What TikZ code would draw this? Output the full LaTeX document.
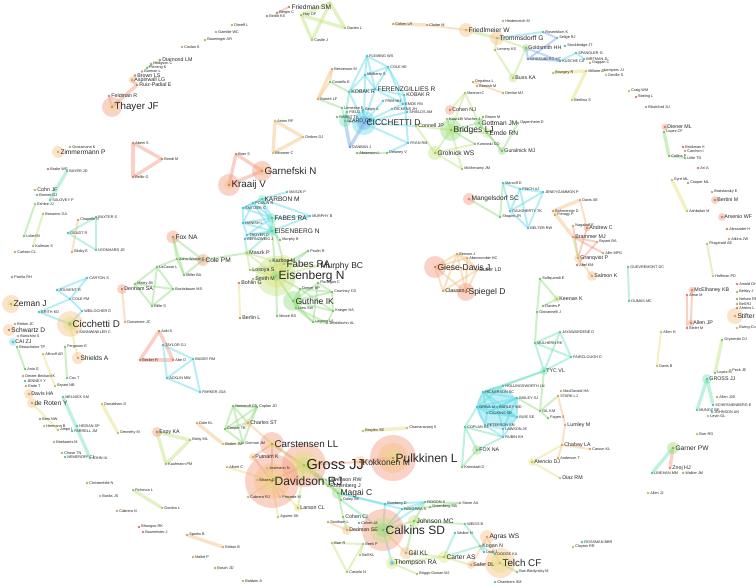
\documentclass[tikz,border=0pt]{standalone}
\usepackage{fontspec}
\setmainfont{Liberation Sans}
\usetikzlibrary{backgrounds}
\definecolor{cS}{HTML}{F2977A}
\definecolor{cO}{HTML}{F6BE7E}
\definecolor{cY}{HTML}{E4E07A}
\definecolor{cL}{HTML}{C2E27C}
\definecolor{cG}{HTML}{90DC80}
\definecolor{cM}{HTML}{70E2B4}
\definecolor{cC}{HTML}{60DAEA}
\definecolor{cB}{HTML}{78A6EE}
\tikzstyle{au}=[shape=circle,
                inner sep=0pt,
                minimum size=2.8pt]
\tikzstyle{nS}=[au, fill=cS!85!black]
\tikzstyle{nO}=[au, fill=cO!85!black]
\tikzstyle{nY}=[au, fill=cY!85!black]
\tikzstyle{nL}=[au, fill=cL!85!black]
\tikzstyle{nG}=[au, fill=cG!85!black]
\tikzstyle{nM}=[au, fill=cM!85!black]
\tikzstyle{nC}=[au, fill=cC!85!black]
\tikzstyle{nB}=[au, fill=cB!85!black]
\tikzstyle{ring}=[fill opacity=0.42]
\tikzset{
  f0/.style={font=\fontsize{3.8}{4}\selectfont, inner sep=0.5pt, text=black!85},
  f1/.style={font=\fontsize{5.3}{6}\selectfont, inner sep=0.6pt, text=black!85},
  f2/.style={font=\fontsize{6.6}{7}\selectfont, inner sep=0.7pt, text=black!85},
  f3/.style={font=\fontsize{8.5}{9}\selectfont, inner sep=0.8pt, text=black!85},
  f4/.style={font=\fontsize{9.8}{10}\selectfont, inner sep=0.8pt, text=black!85},
  f5/.style={font=\fontsize{12}{13}\selectfont, inner sep=0.8pt, text=black!85},
  f6/.style={font=\fontsize{14.5}{15}\selectfont, inner sep=0.8pt, text=black!85},
  lkt/.style={every edge/.style={draw=#1, line width=1pt, draw opacity=0.5, line cap=round}},
  lk/.style={every edge/.style={draw=#1, line width=2pt, draw opacity=0.45, line cap=round}},
  lkw/.style={every edge/.style={draw=#1, line width=3.4pt, draw opacity=0.45, line cap=round}}
}
\begin{document}
\begin{tikzpicture}[x=1pt,y=-1pt]
\useasboundingbox (0,0) rectangle (756,585);

% top left strand
\node[nO,label={[f0]right:Coslan K}] (coslan) at (182,47) {};
\node[nO,label={[f0]right:Dimeff L}] (dimeff) at (232,25) {};
\node[nO,label={[f0]right:Gamble WC}] (gamble) at (216,32) {};
\node[nO,label={[f0]right:Bauminger AR}] (baumin) at (205,40) {};
\node[nS,label={[f1]right:Diamond LM}] (diamond) at (160,60) {};
\node[nG,label={[f0]right:Hodgson C}] (hodgson) at (151,64) {};
\node[nG,label={[f0]right:Fleming K}] (fleming) at (147,68) {};
\node[nO,label={[f0]right:Burman L}] (burman) at (142,71.5) {};
\node[nS,label={[f1]right:Brown LS}] (brownls) at (135,75.5) {};
\node[nO,label={[f1]right:Aspinwall LG}] (aspin) at (132,80) {};
\node[nS,label={[f1]right:Ruiz-Padial E}] (ruiz) at (137,85) {};
\node[nS,label={[f1]right:Feldman R}] (feldman) at (109,96) {};
\node[nS,label={[f4]right:Thayer JF}] (thayer) at (112,107) {};

% far left
\node[nO,label={[f2]right:Zimmermann P}] (zimm) at (58,152) {};
\node[nO,label={[f0]right:Grossmann K}] (grossmann) at (70,147) {};
\node[nS,label={[f0]right:Abeni S}] (abeni) at (133,143) {};
\node[nS,label={[f0]right:Bondi M}] (bondi) at (162,159) {};
\node[nS,label={[f0]right:Bellio G}] (bellio) at (133,177) {};
\node[nS,label={[f0]right:Brake WG}] (brake) at (48,169) {};
\node[nM,label={[f0]right:BAYER JD}] (bayer) at (67,171) {};
\node[nO,label={[f1]right:Cohn JF}] (cohnjf) at (35,190) {};
\node[nG,label={[f0]right:Bonnet GJ}] (bonnet) at (37,195) {};
\node[nM,label={[f0]right:SALOVEY P}] (salovey) at (50,200) {};
\node[nL,label={[f0]right:Eshlee JJ}] (eshlee) at (35,204) {};
\node[nG,label={[f0]right:Lobel M}] (lobel) at (24,236) {};
\node[nL,label={[f0]right:Bonanno GA}] (bonanno) at (43,214) {};
\node[nL,label={[f0]right:Kaltman S}] (kaltman) at (33,246) {};
\node[nO,label={[f0]right:Carlson CL}] (carlsoncl) at (15,252) {};
\node[nM,label={[f0]right:BAXTER S}] (baxter) at (96,217) {};
\node[nO,label={[f0]right:Chapelle S}] (chapelle) at (78,220) {};
\node[nM,label={[f0]right:GEUDT R}] (geudt) at (68,233) {};
\node[nO,label={[f0]right:Blixby E}] (blixby) at (72,252) {};
\node[nM,label={[f0]right:LEONHARD JE}] (leonh) at (96,250) {};
\node[nG,label={[f0]right:Parrila RH}] (parrila) at (12,277) {};
\node[nC,label={[f0]right:CARTON S}] (carton) at (87,278) {};
\node[nC,label={[f0]right:JOUVENT R}] (jouvent) at (57,290) {};
\node[nC,label={[f0]right:COLE PM}] (colepmU) at (70,299) {};
\node[nC,label={[f0]right:BRITH KD}] (brith) at (39,312) {};
\node[nC,label={[f0]right:WEILOCHER D}] (weil) at (82,311) {};
\node[nO,label={[f3]right:Zeman J}] (zeman) at (11,304) {};
\node[nO,label={[f4]right:Cicchetti D}] (cicchetti) at (70,324) {};
\node[nY,label={[f0]right:SANNWINKLER C}] (sannw) at (77,332) {};
\node[nO,label={[f0]right:Dunsmore JC}] (dunsmore) at (125,322) {};
\node[nO,label={[f0]right:Britton JC}] (britton) at (15,324) {};
\node[nS,label={[f2]right:Schwartz D}] (schwartz) at (9,330) {};
\node[nO,label={[f0]right:Banichini S}] (banich) at (18,336) {};
\node[nC,label={[f1]right:CAI ZJ}] (caizj) at (13,342) {};
\node[nG,label={[f0]right:Beauchaine TP}] (beauch) at (17,347) {};
\node[nG,label={[f0]right:Ania G}] (ania) at (25,369) {};
\node[nO,label={[f0]right:Dexter-Beckard K}] (dexter) at (23,376) {};
\node[nC,label={[f0]right:JENNEY Y}] (jenney) at (25,381) {};
\node[nO,label={[f0]right:Ende T}] (endet) at (26,386) {};
\node[nG,label={[f0]right:Ferguson E}] (ferguson) at (65,347) {};
\node[nG,label={[f0]right:Cox T}] (coxt) at (67,378) {};
\node[nY,label={[f0]right:Altinoff AD}] (altinoff) at (43,354) {};
\node[nY,label={[f0]right:Bryant NB}] (bryantnb) at (55,386) {};
\node[nO,label={[f2]right:Shields A}] (shields) at (78,358) {};

% left green cluster
\node[nG,label={[f0]right:LaCasse L}] (lacasse) at (157,267) {};
\node[nG,label={[f0]right:Maley JB}] (maley) at (135,284) {};
\node[nS,label={[f1]right:Denham SA}] (denham) at (122,289) {};
\node[nG,label={[f0]right:Buchsbaum MS}] (buchs) at (173,289) {};
\node[nG,label={[f0]right:Billie S}] (billie) at (152,306) {};
\node[nS,label={[f2]right:Fox NA}] (fox) at (173,237) {};
\node[nG,label={[f0]right:Zahn-Waxler C}] (zahn) at (177,259) {};
\node[nG,label={[f0]right:Miller BA}] (millerba) at (184,275) {};
\node[nS,label={[f2]right:Cole PM}] (colepm) at (203,260) {};
\node[nS,label={[f0]right:Aoki S}] (aoki) at (159,331) {};
\node[nS,label={[f0]right:Becker R}] (beckerr) at (140,360) {};
\node[nS,label={[f0]right:Abe O}] (abeo) at (173,360) {};
\node[nC,label={[f0]right:TAYLOR GJ}] (taylor) at (163,345) {};
\node[nC,label={[f0]right:ACKLIN MW}] (acklin) at (167,378) {};
\node[nC,label={[f0]right:BAGBY RM}] (bagby) at (193,359) {};
\node[nC,label={[f0]right:PARKER JDA}] (parker) at (200,392) {};

% top centre
\node[nS,label={[f0]right:Birditt KS}] (birditt) at (267,16) {};
\node[nS,label={[f0]right:Bergin C}] (bergin) at (277,13) {};
\node[nS,label={[f2]right:Friedman SM}] (friedman) at (289,7) {};
\node[nL,label={[f0]right:Hay DF}] (hay) at (301,15) {};
\coordinate (topr) at (330,3);
\node[nL,label={[f0]right:Davies L}] (davies) at (345,28) {};
\node[nL,label={[f0]right:Castle J}] (castle) at (312,40) {};
\node[nY,label={[f0]right:Anton RF}] (anton) at (275,121) {};
\node[nY,label={[f0]right:Drobes DJ}] (drobes) at (303,137) {};
\node[nY,label={[f0]right:Bloomer C}] (bloomer) at (273,153) {};
\node[nS,label={[f0]right:Boer S}] (boer) at (236,154) {};
\node[nS,label={[f4]right:Garnefski N}] (garnefski) at (262,171) {};
\node[nS,label={[f4]right:Kraaij V}] (kraaij) at (229,185) {};

% upper CICCHETTI cluster
\node[nO,label={[f0]right:Benvenuto M}] (benvenuto) at (332,69) {};
\node[nG,label={[f0]right:Costello E}] (costello) at (330,82) {};
\node[nO,label={[f0]right:Barrett LF}] (barrett) at (318,99) {};
\node[nC,label={[f0]right:FLEMING WS}] (flemingws) at (367,56) {};
\node[nC,label={[f0]right:COLE HE}] (colehe) at (388,67) {};
\node[nC,label={[f0]right:Mulberry S}] (mulberry) at (365,75) {};
\node[nM,label={[f1]right:KOBAK R}] (kobakA) at (349,92) {};
\node[nC,label={[f2]right:FERENZGILLIES R}] (ferenz) at (375,89) {};
\node[nM,label={[f1]right:KOBAK R}] (kobakB) at (404,95) {};
\node[nC,label={[f0]right:FRIM HH}] (frim) at (383,101) {};
\node[nC,label={[f0]right:EMDE RN}] (emdeU) at (403,104) {};
\node[nC,label={[f0]right:DICKENS JH}] (dickens) at (392,109) {};
\node[nC,label={[f0]right:SHIELDS AM}] (shieldsam) at (407,112) {};
\node[nG,label={[f0]right:Lemerise E}] (lemerise) at (342,108) {};
\node[nG,label={[f0]right:FIELD T}] (field) at (347,112) {};
\node[nC,label={[f0]right:Begin A}] (beginA) at (363,110) {};
\node[nG,label={[f0]right:RABBITT K}] (rabbitt) at (337,117) {};
\node[nM,label={[f1]right:IZARD CE}] (izard) at (345,121) {};
\node[nB,label={[f3]right:CICCHETTI D}] (cicchU) at (364,123) {};
\node[nC,label={[f0]right:RYAN RM}] (ryan) at (408,143) {};
\node[nB,label={[f0]right:DANBAN J}] (danban) at (350,147) {};
\node[nG,label={[f0]right:Abramson L}] (abramson) at (357,153) {};
\node[nG,label={[f0]right:Delaney V}] (delaney) at (387,153) {};

% Friedlmeier / Goldsmith
\node[nO,label={[f0]right:Cohen LR}] (cohenlr) at (393,24) {};
\node[nO,label={[f0]right:Cloitre M}] (cloitre) at (427,25) {};
\node[nL,label={[f0]right:Heidenreich M}] (heiden) at (503,21) {};
\node[nO,label={[f2]right:Friedlmeier W}] (friedl) at (466,30) {};
\node[nO,label={[f2]right:Trommsdorff G}] (tromm) at (497,38) {};
\node[nC,label={[f0]right:Rosenblum K}] (rosenk) at (543,32) {};
\node[nC,label={[f0]right:Selige RJ}] (selige) at (557,38) {};
\node[nL,label={[f0]right:Lemery KS}] (lemery) at (495,50) {};
\node[nG,label={[f1]right:Goldsmith HH}] (goldsmith) at (526,48) {};
\node[nB,label={[f0]right:GREENBERG MT}] (greenberg) at (528,59) {};
\node[nB,label={[f0]right:KUSCHE CA}] (kusche) at (560,61) {};
\node[nL,label={[f1]right:Buss KA}] (buss) at (513,78) {};
\node[nY,label={[f0]right:Bourgey R}] (bourgey) at (553,73) {};
\node[nC,label={[f0]right:Stockbridge JT}] (stockb) at (565,46) {};
\node[nC,label={[f0]right:SPANGLER G}] (spangler) at (576,53) {};
\node[nC,label={[f0]right:BIRTMAN JL}] (birtman) at (584,59) {};
\node[nO,label={[f0]right:Duggan C}] (duggan) at (590,63) {};
\node[nY,label={[f0]right:Millaire JP}] (millaire) at (586,71) {};
\node[nY,label={[f0]right:Lempers JJ}] (lempers) at (602,71) {};
\node[nY,label={[f0]right:Deville S}] (deville) at (606,75) {};
\node[nY,label={[f0]right:Berthoz S}] (berthoz) at (572,100) {};

% Bridges cluster
\node[nS,label={[f1]right:Cohen NJ}] (cohennj) at (450,110) {};
\node[nL,label={[f0]right:Matevei C}] (matevei) at (465,93) {};
\node[nO,label={[f0]right:Depalma L}] (depalma) at (473,82) {};
\node[nO,label={[f0]right:Barnish M}] (barnish) at (477,86) {};
\node[nO,label={[f0]right:Devine MJ}] (devine) at (503,93) {};
\node[nL,label={[f0]right:Katz LF}] (katz) at (447,119) {};
\node[nL,label={[f0]right:Wucher J}] (wucher) at (462,119) {};
\node[nG,label={[f0]right:Brown M}] (brownm) at (483,117) {};
\node[nG,label={[f2]right:Gottman JM}] (gottman) at (479,123) {};
\node[nG,label={[f0]right:Oppenheim D}] (oppen) at (518,123) {};
\node[nG,label={[f2]right:Emde RN}] (emde) at (487,133) {};
\node[nG,label={[f3]right:Bridges LJ}] (bridges) at (451,130) {};
\node[nL,label={[f1]right:Connell JP}] (connell) at (416,126) {};
\node[nL,label={[f2]right:Grolnick WS}] (grolnick) at (435,153) {};
\node[nG,label={[f0]right:Kurowski CO}] (kurowski) at (475,144) {};
\node[nG,label={[f1]right:Guralnick MJ}] (guralnick) at (502,151) {};
\node[nL,label={[f0]right:McMenamy JM}] (mcmenamy) at (462,169) {};

% Mangelsdorf and right orange group
\node[nS,label={[f2]right:Mangelsdorf SC}] (mangels) at (469,199) {};
\node[nG,label={[f0]right:Shapiro JR}] (shapiro) at (500,217) {};
\node[nC,label={[f0]right:DAUGHERTY TK}] (daugh) at (510,211) {};
\node[nC,label={[f0]right:BELTER RW}] (belter) at (528,228) {};
\node[nC,label={[f0]right:Marcoff D}] (marcoff) at (503,183) {};
\node[nC,label={[f0]right:FINCH AJ}] (finch) at (520,189) {};
\node[nC,label={[f0]right:JENEYGAMMON P}] (jeney) at (543,192) {};
\node[nO,label={[f0]right:Buhrmester D}] (buhr) at (553,211) {};
\node[nO,label={[f0]right:Fonagy P}] (fonagy) at (555,215) {};
\node[nO,label={[f0]right:Davis AE}] (davisae) at (580,200) {};
\node[nO,label={[f0]right:Nagakoff E}] (nagakoff) at (573,226) {};
\node[nS,label={[f1]right:Andrew C}] (andrew) at (587,228) {};
\node[nO,label={[f1]right:Brammer MJ}] (brammer) at (573,237) {};
\node[nO,label={[f0]right:Bryant RA}] (bryantrm) at (597,242) {};
\node[nO,label={[f0]right:Allin MPG}] (allin) at (603,253) {};
\node[nO,label={[f1]right:Granqvist P}] (granqvist) at (578,258) {};
\node[nS,label={[f0]right:Abel KM}] (abel) at (577,265) {};
\node[nO,label={[f1]right:Salmon K}] (salmonk) at (592,276) {};

% Giese-Davis group
\node[nS,label={[f3]right:Giese-Davis J}] (giese) at (435,267) {};
\node[nO,label={[f0]right:Benson J}] (benson) at (457,254) {};
\node[nO,label={[f0]right:Abercrombie HC}] (aberc) at (467,258) {};
\node[nO,label={[f1]right:Butler LD}] (butler) at (477,270) {};
\node[nO,label={[f1]right:Classen C}] (classen) at (443,291) {};
\node[nS,label={[f3]right:Spiegel D}] (spiegel) at (466,292) {};

% middle right
\node[nG,label={[f0]right:Solliquandi E}] (solli) at (540,279) {};
\node[nL,label={[f1]right:Keenan K}] (keenan) at (557,299) {};
\node[nG,label={[f0]right:Davies P}] (daviesp) at (543,306) {};
\node[nG,label={[f0]right:Giovannelli J}] (giovann) at (537,312) {};
\node[nM,label={[f0]right:MULHERN RK}] (mulhern) at (535,343) {};
\node[nM,label={[f0]right:JAYAWARDENE D}] (jayaw) at (560,332) {};
\node[nM,label={[f0]right:FAIRCLOUGH D}] (fairc) at (571,357) {};
\node[nM,label={[f1]right:TYC VL}] (tyc) at (544,371) {};
\node[nC,label={[f0]right:HOLLINGSWORTH LN}] (hollings) at (503,386) {};

% right column
\node[nY,label={[f0]right:Craig WM}] (craig) at (629,91) {};
\node[nS,label={[f0]right:Boeing L}] (boeing) at (636,97) {};
\node[nG,label={[f0]right:Blackford JU}] (blackford) at (646,107) {};
\node[nS,label={[f1]right:Diener ML}] (diener) at (665,127) {};
\node[nG,label={[f0]right:Lopez CF}] (lopezcf) at (664,132) {};
\node[nS,label={[f0]right:Brinkman K}] (brinkman) at (683,147) {};
\node[nO,label={[f0]right:Carchon I}] (carchon) at (685,151) {};
\node[nG,label={[f0]right:Collins P}] (collins) at (669,156) {};
\node[nG,label={[f0]right:Little TD}] (little) at (685,158) {};
\node[nS,label={[f0]right:Ari A}] (ari) at (698,168) {};
\node[nY,label={[f0]right:Eyre ML}] (eyre) at (672,180) {};
\node[nG,label={[f0]right:Cooper ML}] (cooperml) at (688,183) {};
\node[nO,label={[f0]right:Bratslavsky E}] (bratsl) at (712,192) {};
\node[nS,label={[f1]right:Bertini M}] (bertini) at (715,200) {};
\node[nY,label={[f0]right:Ashbaker M}] (ashbaker) at (687,211) {};
\node[nS,label={[f1]right:Arsenio WF}] (arsenio) at (722,217) {};
\node[nS,label={[f0]right:Alexander H}] (alexander) at (727,229) {};
\node[nO,label={[f0]right:Atkins JW}] (atkins) at (729,239) {};
\node[nL,label={[f0]right:Fitzgerald AE}] (fitz) at (707,244) {};
\node[nY,label={[f0]right:Hoffman PD}] (hoffman) at (713,276) {};
\node[nM,label={[f0]right:GUEVREMONT DC}] (guev) at (628,267) {};
\node[nM,label={[f0]right:DUMAS MC}] (dumas) at (629,301) {};
\node[nS,label={[f1]right:McElhaney KB}] (mcelh) at (692,290) {};
\node[nS,label={[f0]right:Amar M}] (amar) at (687,295) {};
\node[nS,label={[f1]right:Allen JP}] (allenjp) at (691,323) {};
\node[nS,label={[f0]right:Bieler M}] (bieler) at (687,328) {};
\node[nS,label={[f0]right:Arnold DH}] (arnold) at (737,284) {};
\node[nO,label={[f0]right:Belsky J}] (belsky) at (737,292) {};
\node[nG,label={[f0]right:Nelson RE}] (nelson) at (737,299) {};
\node[nO,label={[f0]right:Bell RJ}] (bellrj) at (737,304) {};
\node[nS,label={[f0]right:Ahrens L}] (ahrens) at (737,308) {};
\node[nO,label={[f2]right:Stifter CA}] (stifter) at (735,316) {};
\node[nY,label={[f0]right:Ewing-Cobbs L}] (ewing) at (737,328) {};
\node[nY,label={[f0]right:Allen H}] (allenh) at (661,332) {};
\node[nY,label={[f0]right:Davis B}] (davisb) at (657,366) {};
\node[nG,label={[f0]right:Gryzenski DJ}] (gryz) at (722,340) {};
\node[nG,label={[f0]right:Lopez M}] (lopezm) at (715,373) {};
\node[nY,label={[f0]right:Peck JE}] (peck) at (730,370) {};
\node[nM,label={[f1]right:GROSS JJ}] (grossU) at (707,379) {};
\node[nO,label={[f0]right:Allen JJB}] (allenjjb) at (717,397) {};
\node[nC,label={[f0]right:SCHIFANENBERG E}] (schif) at (713,405) {};
\node[nM,label={[f0]right:MUNOZ RF}] (munoz) at (697,410) {};
\node[nC,label={[f0]right:JOHNSON AN}] (johnsonan) at (712,412) {};
\node[nY,label={[f0]right:Levin GL}] (levin) at (708,416) {};
\node[nY,label={[f0]right:Barr RG}] (barrrg) at (697,434) {};
\node[nG,label={[f2]right:Garner PW}] (garner) at (673,448) {};
\node[nS,label={[f1]right:Znoj HJ}] (znoj) at (670,468) {};
\node[nM,label={[f0]right:LINEHAN MM}] (linehan) at (652,473) {};
\node[nO,label={[f0]right:Walker JM}] (walkerjm) at (683,473) {};
\node[nY,label={[f0]right:Allen JJ}] (allenjj) at (648,493) {};
\node[nC,label={[f0]right:ROSSMAN BBR}] (rossman) at (582,542) {};
\node[nY,label={[f0]right:Clayton RR}] (clayton) at (573,547) {};

% lower right
\node[nO,label={[f0]right:MacDonald HA}] (macdonald) at (561,391) {};
\node[nO,label={[f0]right:STARK LJ}] (stark) at (558,396) {};
\node[nO,label={[f1]right:Lumley M}] (lumley) at (565,425) {};
\node[nO,label={[f1]right:Chabay LA}] (chabay) at (562,445) {};
\node[nO,label={[f0]right:Carson KL}] (carsonkl) at (590,449) {};
\node[nO,label={[f0]right:Anderson T}] (anderson) at (558,458) {};
\node[nY,label={[f1]right:Atencio DJ}] (atencio) at (532,462) {};
\node[nY,label={[f1]right:Diaz RM}] (diaz) at (560,478) {};
\node[nC,label={[f0]right:HICKERSON SC}] (hickerson) at (483,392) {};
\node[nC,label={[f0]right:BAILEY SJ}] (baileysj) at (517,398) {};
\node[nC,label={[f0]right:GRIVA M}] (griva) at (477,407) {};
\node[nC,label={[f0]right:BARLEY WD}] (barley) at (497,407) {};
\node[nC,label={[f0]right:CALKINS SD}] (calkinsU) at (487,413) {};
\node[nC,label={[f0]right:BUIE SE}] (buie) at (517,417) {};
\node[nG,label={[f0]right:GIL KM}] (gilkm) at (540,411) {};
\node[nG,label={[f0]right:Fagen J}] (fagen) at (548,418) {};
\node[nC,label={[f0]right:COPLAN RJ}] (coplan) at (465,427) {};
\node[nC,label={[f0]right:PETERSON EN}] (peterson) at (485,425) {};
\node[nC,label={[f0]right:LAWSON JE}] (lawson) at (503,429) {};
\node[nC,label={[f0]right:RUBIN KH}] (rubin) at (503,437) {};
\node[nG,label={[f1]right:FOX NA}] (foxU) at (477,450) {};
\node[nG,label={[f0]right:Kronstadt D}] (kronstadt) at (462,467) {};

% bottom centre
\node[nS,label={[f3]right:Kokkonen M}] (kokkonen) at (360,462) {};
\node[nS,label={[f5]right:Pulkkinen L}] (pulkk) at (393,458) {};
\node[nY,label={[f0]right:Broyles SE}] (broyles) at (363,431) {};
\node[nY,label={[f0]right:Chamaravanij S}] (chamar) at (407,428) {};
\node[nG,label={[f0]right:Nemeroff CB}] (nemeroff) at (233,406) {};
\node[nG,label={[f0]right:Coplan JD}] (coplanjd) at (257,407) {};
\node[nG,label={[f0]right:Cooper TB}] (cooperTB) at (225,429) {};
\node[nO,label={[f1]right:Charles ST}] (charles) at (248,423) {};
\node[nG,label={[f0]right:Gorman JM}] (gorman) at (243,443) {};
\node[nO,label={[f0]right:Dale KL}] (dalekl) at (197,423) {};
\node[nL,label={[f0]right:Bixby ML}] (bixby) at (190,440) {};
\node[nY,label={[f0]right:Boden JM}] (boden) at (223,444) {};
\node[nS,label={[f4]right:Carstensen LL}] (carstensen) at (272,444) {};
\node[nO,label={[f1]right:Putnam K}] (putnam) at (253,457) {};
\node[nY,label={[f0]right:Albert C}] (albertc) at (227,467) {};
\node[nY,label={[f0]right:Jostmann N}] (jostmann) at (267,468) {};
\node[nL,label={[f6]right:Gross JJ}] (gross) at (304,465) {};
\node[nS,label={[f5]right:Davidson RJ}] (davidson) at (272,481) {};
\node[nY,label={[f0]right:Blasen G}] (blasen) at (257,480) {};
\node[nL,label={[f1]right:Levenson RW}] (levenson) at (326,480) {};
\node[nL,label={[f1]right:Rottenberg J}] (rottenberg) at (328,486) {};
\node[nG,label={[f3]right:Magai C}] (magai) at (338,493) {};
\node[nG,label={[f0]right:Daley SE}] (daley) at (341,500) {};
\node[nY,label={[f0]right:Cabrera RJ}] (cabrerarj) at (248,497) {};
\node[nY,label={[f0]right:Procede M}] (procede) at (280,497) {};
\node[nY,label={[f1]right:Larson CL}] (larson) at (298,508) {};
\node[nY,label={[f0]right:Aguirre SK}] (aguirre) at (278,517) {};
\node[nG,label={[f1]right:Cohen CI}] (cohenci) at (343,517) {};
\node[nO,label={[f0]right:Southam L}] (southam) at (328,522) {};
\node[nC,label={[f0]right:Cohen JA}] (cohenja) at (359,523) {};
\node[nO,label={[f1]right:Dedmon SE}] (dedmon) at (347,530) {};
\node[nL,label={[f0]right:Barr R}] (barr) at (332,543) {};
\node[nL,label={[f0]right:Beek P}] (beek) at (363,544) {};
\node[nL,label={[f0]right:Bell KL}] (bellkl) at (360,555) {};
\node[nL,label={[f0]right:Casiola N}] (casiola) at (347,572) {};
\node[nC,label={[f0]right:Bomberg D}] (bomberg) at (385,504) {};
\node[nC,label={[f0]right:IWAGAWA S}] (iwagawa) at (402,509) {};
\node[nG,label={[f0]right:ROGON S}] (rogon) at (425,502) {};
\node[nG,label={[f0]right:Greenberg MA}] (greenbergma) at (430,507) {};
\node[nG,label={[f0]right:Stone AA}] (stone) at (460,503) {};
\node[nG,label={[f2]right:Johnson MC}] (johnsonmc) at (414,521) {};
\node[nG,label={[f5]right:Calkins SD}] (calkins) at (383,530) {};
\node[nM,label={[f0]right:WEISS B}] (weiss) at (465,524) {};
\node[nM,label={[f0]right:Walker N}] (walkern) at (455,533) {};
\node[nO,label={[f2]right:Agras WS}] (agras) at (487,537) {};
\node[nM,label={[f1]right:Kogan N}] (kogan) at (480,546) {};
\node[nC,label={[f0]right:Lock J}] (lockj) at (484,552) {};
\node[nC,label={[f0]right:DODGE KA}] (dodge) at (495,554) {};
\node[nO,label={[f2]right:Gill KL}] (gill) at (406,553) {};
\node[nL,label={[f2]right:Carter AS}] (carter) at (444,557) {};
\node[nO,label={[f1]right:Safer DL}] (safer) at (471,565) {};
\node[nY,label={[f4]right:Telch CF}] (telch) at (500,563) {};
\node[nC,label={[f2]right:Thompson RA}] (thompson) at (392,563) {};
\node[nL,label={[f0]right:Briggs-Gowan MJ}] (briggs) at (417,574) {};
\node[nG,label={[f0]right:Bas-Bledynsky M}] (bas) at (517,572) {};
\node[nM,label={[f0]right:Chambers SM}] (chambers) at (495,582) {};

% bottom left
\node[nO,label={[f1]right:Davis HA}] (davisha) at (29,394) {};
\node[nO,label={[f2]right:de Roten Y}] (deroten) at (32,403) {};
\node[nM,label={[f0]right:MELNICK SM}] (melnick) at (63,397) {};
\node[nY,label={[f0]right:Donaldson D}] (donaldson) at (102,404) {};
\node[nY,label={[f0]right:Dennehy M}] (dennehy) at (118,433) {};
\node[nG,label={[f0]right:Bers NW}] (bers) at (40,419) {};
\node[nY,label={[f0]right:Hermann B}] (hermann) at (44,426) {};
\node[nY,label={[f0]right:Ampo I}] (ampo) at (58,430) {};
\node[nM,label={[f0]right:HEDIAN SP}] (hedian) at (77,426) {};
\node[nM,label={[f0]right:FARRELL JM}] (farrell) at (72,431) {};
\node[nO,label={[f0]right:Boekaerts M}] (boek) at (54,442) {};
\node[nO,label={[f0]right:Chase TN}] (chase) at (62,453) {};
\node[nC,label={[f0]right:NEMEROFF CJ}] (nemeroffcj) at (65,457) {};
\node[nM,label={[f0]right:JOHN IA}] (johnia) at (90,458) {};
\node[nS,label={[f1]right:Espy KA}] (espy) at (157,432) {};
\node[nL,label={[f0]right:Kaufmann PM}] (kaufmann) at (166,464) {};
\node[nO,label={[f0]right:Christenfeld N}] (christ) at (87,483) {};
\node[nY,label={[f0]right:Banks JS}] (banks) at (100,496) {};
\node[nL,label={[f0]right:Fichman L}] (fichman) at (133,490) {};
\node[nL,label={[f0]right:Gordon L}] (gordon) at (162,508) {};
\node[nO,label={[f0]right:Cabrera N}] (cabreran) at (117,511) {};
\node[nS,label={[f0]right:Bhangoo RK}] (bhangoo) at (139,527) {};
\node[nS,label={[f0]right:Baumeister J}] (baumeister) at (143,532) {};
\node[nO,label={[f0]right:Sparks B}] (sparks) at (187,535) {};
\node[nO,label={[f0]right:Britton B}] (brittonb) at (223,547) {};
\node[nO,label={[f0]right:Mallet P}] (mallet) at (193,557) {};
\node[nO,label={[f0]right:Bosch JD}] (bosch) at (215,568) {};
\node[nO,label={[f0]right:Baldwin A}] (baldwin) at (243,581) {};

% Eisenberg cluster
\node[nM,label={[f2]right:KARBON M}] (karbonU) at (262,199) {};
\node[nM,label={[f0]right:MASZK P}] (maszkU) at (287,192) {};
\node[nC,label={[f0]right:POULIN R}] (poulinR) at (253,203) {};
\node[nC,label={[f0]right:SMITZER C}] (smitzer) at (243,208) {};
\node[nC,label={[f0]right:HANISH L}] (hanish) at (243,223) {};
\node[nM,label={[f2]right:FABES RA}] (fabesU) at (272,218) {};
\node[nC,label={[f0]right:MURPHY B}] (murphyU) at (310,216) {};
\node[nM,label={[f2]right:EISENBERG N}] (eisenU) at (272,231) {};
\node[nC,label={[f0]right:TROYER D}] (troyer) at (247,235) {};
\node[nC,label={[f0]right:BERNZWEIG J}] (bernz) at (245,239) {};
\node[nG,label={[f0]right:Murphy B}] (murphyb) at (280,240) {};
\node[nL,label={[f1]right:Maszk P}] (maszk) at (247,253) {};
\node[nG,label={[f0]right:Poulin R}] (pelozzi) at (308,251) {};
\node[nY,label={[f1]right:Karbon M}] (karbon) at (270,261) {};
\node[nL,label={[f3]right:Murphy BC}] (murphy) at (318,266) {};
\node[nY,label={[f4]right:Fabes RA}] (fabes) at (284,264) {};
\node[nL,label={[f1]right:Losoya S}] (losoya) at (250,270) {};
\node[nL,label={[f1]right:Smith M}] (smithm) at (253,279) {};
\node[nL,label={[f5]right:Eisenberg N}] (eisen) at (276,276) {};
\node[nG,label={[f0]right:Flanagan C}] (flanagan) at (318,283) {};
\node[nG,label={[f0]right:Dreyer BP}] (dreyer) at (300,289) {};
\node[nG,label={[f0]right:Courtney CD}] (courtney) at (332,292) {};
\node[nG,label={[f3]right:Guthrie IK}] (guthrie) at (293,301) {};
\node[nG,label={[f0]right:Liew SW}] (liew) at (296,308) {};
\node[nG,label={[f0]right:Krieger HA}] (krieger) at (333,311) {};
\node[nG,label={[f0]right:Lagana LA}] (lagana) at (313,322) {};
\node[nG,label={[f0]right:Jendelsohn AL}] (jendel) at (327,323) {};
\node[nG,label={[f0]right:Moore BS}] (moore) at (277,316) {};
\node[nS,label={[f1]right:Bohlin G}] (bohlin) at (239,283) {};
\node[nS,label={[f1]right:Berlin L}] (berlin) at (240,318) {};

\begin{scope}[on background layer]
% links
\path[lkw=cS] (thayer) edge (ruiz) (ruiz) edge (aspin)
      (abeni) edge (bondi) (bondi) edge (bellio) (abeni) edge (bellio)
      (aoki) edge (beckerr) (aoki) edge (abeo) (beckerr) edge (abeo)
      (boer) edge (garnefski) (boer) edge (kraaij) (garnefski) edge (kraaij)
      (garner) edge (znoj) (kokkonen) edge (pulkk);
\path[lk=cS] (thayer) edge (feldman) (bergin) edge (friedman)
      (mcelh) edge (allenjp) (amar) edge (bieler)
      (brammer) edge (allin) (nagakoff) edge (granqvist) (brammer) edge (bryantrm)
      (andrew) edge (granqvist) (bryantrm) edge (abel)
      (gross) edge (davidson) (gross) edge (carstensen) (davidson) edge (carstensen)
      (carstensen) edge (putnam) (davidson) edge (putnam) (gross) edge (kokkonen);
\path[lkw=cO] (benvenuto) edge (barrett) (cohenlr) edge (cloitre)
      (anton) edge (drobes) (drobes) edge (bloomer) (anton) edge (bloomer)
      (dalekl) edge (boden) (sparks) edge (brittonb) (buhr) edge (davisae) (buhr) edge (brammer);
\path[lk=cO] (brownls) edge (aspin) (chapelle) edge (blixby) (denham) edge (dunsmore)
      (costello) edge (barrett) (benvenuto) edge (costello) (cloitre) edge (friedl)
      (depalma) edge (devine) (davisae) edge (andrew) (granqvist) edge (salmonk)
      (giese) edge (benson) (giese) edge (aberc) (giese) edge (butler) (giese) edge (classen)
      (giese) edge (spiegel) (benson) edge (aberc) (benson) edge (butler) (benson) edge (spiegel)
      (benson) edge (classen) (aberc) edge (butler) (aberc) edge (spiegel) (butler) edge (spiegel)
      (butler) edge (classen) (classen) edge (spiegel)
      (stark) edge (lumley) (lumley) edge (chabay) (chabay) edge (carsonkl) (chabay) edge (anderson)
      (carstensen) edge (charles) (davidson) edge (blasen) (davidson) edge (procede)
      (calkins) edge (dedmon) (dedmon) edge (southam) (gill) edge (calkins)
      (safer) edge (telch) (agras) edge (telch) (agras) edge (safer);
\path[lkw=cY] (bourgey) edge (millaire) (millaire) edge (berthoz) (eyre) edge (ashbaker)
      (broyles) edge (chamar) (donaldson) edge (dennehy);
\path[lk=cY] (cicchetti) edge (shields) (cicchetti) edge (sannw) (altinoff) edge (bryantnb)
      (bohlin) edge (berlin) (allenh) edge (davisb) (chabay) edge (atencio) (atencio) edge (diaz)
      (deroten) edge (ampo) (boden) edge (gorman) (davidson) edge (albertc)
      (davidson) edge (cabrerarj) (davidson) edge (aguirre) (davidson) edge (larson)
      (davidson) edge (jostmann);
\path[lkw=cL] (hay) edge (davies) (hay) edge (castle) (topr) edge (castle) (topr) edge (davies)
      (hay) edge (topr) (friedl) edge (tromm) (gryz) edge (lopezm)
      (espy) edge (bixby) (espy) edge (kaufmann) (kaufmann) edge (bixby) (fichman) edge (gordon);
\path[lk=cL] (bonanno) edge (kaltman) (lemery) edge (buss) (goldsmith) edge (buss)
      (tromm) edge (lemery) (tromm) edge (goldsmith) (fitz) edge (hoffman) (brammer) edge (granqvist)
      (bridges) edge (connell) (bridges) edge (grolnick) (grolnick) edge (connell)
      (grolnick) edge (mcmenamy) (bridges) edge (mcmenamy) (grolnick) edge (kurowski)
      (bridges) edge (matevei) (matevei) edge (gottman) (cohennj) edge (matevei)
      (gross) edge (larson) (magai) edge (carstensen)
      (barr) edge (beek) (barr) edge (casiola) (beek) edge (casiola) (beek) edge (bellkl)
      (carter) edge (thompson) (carter) edge (gill) (carter) edge (safer) (thompson) edge (briggs)
      (eisen) edge (fabes) (eisen) edge (karbon) (eisen) edge (losoya) (eisen) edge (smithm)
      (eisen) edge (maszk) (eisen) edge (murphy) (fabes) edge (losoya) (fabes) edge (maszk)
      (fabes) edge (murphy) (maszk) edge (losoya);
\path[lkw=cG] (lopezcf) edge (collins);
\path[lk=cG] (eshlee) edge (lobel) (beauch) edge (ania) (ferguson) edge (coxt)
      (lacasse) edge (maley) (lacasse) edge (buchs) (lacasse) edge (billie) (maley) edge (buchs)
      (maley) edge (billie) (buchs) edge (billie) (fox) edge (zahn) (fox) edge (colepm)
      (zahn) edge (colepm) (zahn) edge (millerba) (millerba) edge (colepm) (fox) edge (millerba)
      (lacasse) edge (zahn) (colepm) edge (maszk)
      (costello) edge (kobakA) (barrett) edge (lemerise) (abramson) edge (delaney)
      (bridges) edge (gottman) (bridges) edge (emde) (bridges) edge (katz) (bridges) edge (kurowski)
      (gottman) edge (emde) (gottman) edge (guralnick) (emde) edge (guralnick)
      (guralnick) edge (oppen) (gottman) edge (brownm) (katz) edge (wucher)
      (mangels) edge (shapiro) (shapiro) edge (marcoff)
      (solli) edge (keenan) (solli) edge (giovann) (giovann) edge (mulhern) (keenan) edge (daviesp)
      (collins) edge (little) (baileysj) edge (gilkm) (gilkm) edge (stark) (gilkm) edge (fagen)
      (tyc) edge (gilkm) (foxU) edge (kronstadt)
      (nemeroff) edge (coplanjd) (nemeroff) edge (cooperTB) (nemeroff) edge (gorman)
      (coplanjd) edge (cooperTB) (coplanjd) edge (gorman) (cooperTB) edge (gorman)
      (nemeroff) edge (charles) (coplanjd) edge (charles) (cooperTB) edge (charles)
      (gross) edge (magai) (gross) edge (levenson) (gross) edge (rottenberg) (levenson) edge (magai)
      (magai) edge (daley) (magai) edge (cohenci) (cohenci) edge (dedmon)
      (rogon) edge (stone) (greenbergma) edge (stone) (iwagawa) edge (greenbergma)
      (johnsonmc) edge (weiss) (johnsonmc) edge (calkins) (johnsonmc) edge (gill) (johnsonmc) edge (rogon)
      (telch) edge (bas)
      (eisen) edge (pelozzi) (eisen) edge (moore) (eisen) edge (guthrie) (fabes) edge (pelozzi)
      (eisen) edge (dreyer) (guthrie) edge (dreyer) (guthrie) edge (liew) (guthrie) edge (lagana)
      (guthrie) edge (krieger) (guthrie) edge (courtney) (guthrie) edge (flanagan)
      (dreyer) edge (courtney) (courtney) edge (krieger) (krieger) edge (jendel) (jendel) edge (lagana)
      (lagana) edge (liew) (liew) edge (dreyer) (flanagan) edge (courtney) (dreyer) edge (krieger)
      (liew) edge (jendel) (flanagan) edge (lagana) (eisenU) edge (eisen) (fabesU) edge (fabes);
\path[lkw=cM] (bayer) edge (salovey) (melnick) edge (johnia) (grossU) edge (munoz)
      (grossU) edge (schif) (garner) edge (linehan);
\path[lk=cM] (baxter) edge (geudt) (baxter) edge (leonh) (geudt) edge (leonh) (guev) edge (dumas)
      (izard) edge (lemerise) (izard) edge (field) (izard) edge (kobakA)
      (mulhern) edge (jayaw) (mulhern) edge (tyc) (jayaw) edge (tyc) (jayaw) edge (fairc)
      (fairc) edge (tyc) (mulhern) edge (fairc) (tyc) edge (hollings) (tyc) edge (hickerson)
      (coplan) edge (griva) (coplan) edge (foxU) (rubin) edge (foxU) (coplan) edge (rubin)
      (coplan) edge (kronstadt) (hollings) edge (hickerson) (hollings) edge (griva)
      (daley) edge (calkins) (kogan) edge (weiss) (carter) edge (kogan) (carter) edge (walkern)
      (kogan) edge (dodge) (eisenU) edge (maszk) (bernz) edge (maszk) (eisenU) edge (murphyb);
\path[lk=cC] (carton) edge (jouvent) (carton) edge (colepmU) (jouvent) edge (colepmU)
      (colepmU) edge (brith) (colepmU) edge (weil) (brith) edge (cicchetti) (weil) edge (cicchetti)
      (taylor) edge (acklin) (acklin) edge (bagby) (taylor) edge (bagby) (bagby) edge (parker)
      (acklin) edge (parker)
      (flemingws) edge (colehe) (flemingws) edge (mulberry) (flemingws) edge (kobakA)
      (flemingws) edge (ferenz) (colehe) edge (mulberry) (colehe) edge (ferenz) (colehe) edge (kobakB)
      (mulberry) edge (kobakA) (mulberry) edge (ferenz) (kobakA) edge (ferenz) (kobakA) edge (cicchU)
      (ferenz) edge (kobakB) (ferenz) edge (emdeU) (ferenz) edge (cicchU) (kobakB) edge (shieldsam)
      (emdeU) edge (dickens) (dickens) edge (cicchU) (frim) edge (cicchU) (shieldsam) edge (cicchU)
      (cicchU) edge (ryan) (kobakB) edge (ryan) (beginA) edge (cicchU) (mulberry) edge (cicchU)
      (colehe) edge (emdeU) (ryan) edge (delaney) (cicchU) edge (connell)
      (tromm) edge (rosenk) (kusche) edge (spangler) (spangler) edge (birtman)
      (marcoff) edge (finch) (finch) edge (jeney) (finch) edge (daugh) (marcoff) edge (daugh)
      (daugh) edge (belter) (jeney) edge (belter) (finch) edge (belter) (jeney) edge (daugh)
      (hickerson) edge (baileysj) (hickerson) edge (griva) (hickerson) edge (barley)
      (hickerson) edge (calkinsU) (hickerson) edge (buie) (baileysj) edge (griva)
      (baileysj) edge (barley) (baileysj) edge (buie) (baileysj) edge (calkinsU) (griva) edge (barley)
      (griva) edge (calkinsU) (griva) edge (buie) (barley) edge (buie) (barley) edge (calkinsU)
      (calkinsU) edge (buie) (griva) edge (peterson) (barley) edge (lawson) (buie) edge (lawson)
      (peterson) edge (lawson) (peterson) edge (rubin) (lawson) edge (rubin) (calkinsU) edge (peterson)
      (buie) edge (rubin) (baileysj) edge (lawson)
      (magai) edge (bomberg) (magai) edge (iwagawa) (calkins) edge (bomberg) (calkins) edge (iwagawa)
      (bomberg) edge (rogon) (iwagawa) edge (rogon) (calkins) edge (rogon) (thompson) edge (calkins)
      (kogan) edge (lockj)
      (karbonU) edge (poulinR) (karbonU) edge (smitzer) (karbonU) edge (fabesU) (karbonU) edge (eisenU)
      (karbonU) edge (maszkU) (poulinR) edge (smitzer) (poulinR) edge (hanish) (poulinR) edge (fabesU)
      (smitzer) edge (hanish) (smitzer) edge (fabesU) (hanish) edge (fabesU) (hanish) edge (troyer)
      (hanish) edge (eisenU) (fabesU) edge (eisenU) (fabesU) edge (murphyU) (fabesU) edge (troyer)
      (eisenU) edge (troyer) (eisenU) edge (bernz) (troyer) edge (bernz) (eisenU) edge (murphyU)
      (karbonU) edge (murphyU) (poulinR) edge (eisenU);
\path[lkw=cB] (izard) edge (danban) (danban) edge (cicchU);
\path[lk=cB] (izard) edge (cicchU) (goldsmith) edge (greenberg) (greenberg) edge (kusche)
      (goldsmith) edge (kusche) (rosenk) edge (selige) (selige) edge (greenberg);
\path[lkt=cG] (diamond) edge (fleming) (hodgson) edge (fleming);

% rings
\fill[ring,cS] (thayer) circle (10pt);
\fill[ring,cY] (thayer) circle (4pt);
\fill[ring,cO] (aspin) circle (3.5pt);
\fill[ring,cO] (zimm) circle (6pt);
\fill[ring,cO] (zeman) circle (9pt);
\fill[ring,cY] (zeman) circle (4pt);
\fill[ring,cO] (cicchetti) circle (13pt);
\fill[ring,cY] (cicchetti) circle (7pt);
\fill[ring,cG] (cicchetti) circle (3pt);
\fill[ring,cO] (schwartz) circle (6pt);
\fill[ring,cC] (caizj) circle (4pt);
\fill[ring,cO] (shields) circle (6pt);
\fill[ring,cS] (denham) circle (5pt);
\fill[ring,cS] (fox) circle (6.5pt);
\fill[ring,cS] (colepm) circle (6pt);
\fill[ring,cG] (colepm) circle (3pt);
\fill[ring,cS] (garnefski) circle (10pt);
\fill[ring,cO] (garnefski) circle (5pt);
\fill[ring,cS] (kraaij) circle (11pt);
\fill[ring,cO] (kraaij) circle (5pt);
\fill[ring,cM] (izard) circle (6pt);
\fill[ring,cC] (cicchU) circle (12pt);
\fill[ring,cB] (cicchU) circle (7pt);
\fill[ring,cO] (friedl) circle (7pt);
\fill[ring,cO] (tromm) circle (7pt);
\fill[ring,cG] (goldsmith) circle (4pt);
\fill[ring,cL] (buss) circle (4.5pt);
\fill[ring,cS] (cohennj) circle (5pt);
\fill[ring,cG] (gottman) circle (5pt);
\fill[ring,cL] (emde) circle (5pt);
\fill[ring,cG] (bridges) circle (11pt);
\fill[ring,cL] (bridges) circle (6pt);
\fill[ring,cL] (grolnick) circle (7pt);
\fill[ring,cG] (guralnick) circle (4pt);
\fill[ring,cS] (mangels) circle (6pt);
\fill[ring,cS] (andrew) circle (3.5pt);
\fill[ring,cO] (granqvist) circle (4pt);
\fill[ring,cO] (salmonk) circle (5pt);
\fill[ring,cS] (giese) circle (11pt);
\fill[ring,cS] (spiegel) circle (9pt);
\fill[ring,cL] (keenan) circle (3.5pt);
\fill[ring,cM] (tyc) circle (4pt);
\fill[ring,cS] (diener) circle (3.5pt);
\fill[ring,cS] (bertini) circle (4pt);
\fill[ring,cS] (arsenio) circle (4pt);
\fill[ring,cS] (mcelh) circle (3.5pt);
\fill[ring,cS] (allenjp) circle (3.5pt);
\fill[ring,cO] (stifter) circle (8pt);
\fill[ring,cM] (grossU) circle (5pt);
\fill[ring,cG] (garner) circle (6pt);
\fill[ring,cY] (garner) circle (3pt);
\fill[ring,cY] (atencio) circle (4pt);
\fill[ring,cC] (barley) circle (20pt);
\fill[ring,cG] (foxU) circle (5pt);
\fill[ring,cS] (pulkk) circle (23pt);
\fill[ring,cO] (pulkk) circle (15pt);
\fill[ring,cY] (pulkk) circle (8pt);
\fill[ring,cO] (kokkonen) circle (6pt);
\fill[ring,cO] (charles) circle (4pt);
\fill[ring,cS] (carstensen) circle (12pt);
\fill[ring,cY] (carstensen) circle (5pt);
\fill[ring,cO] (putnam) circle (4pt);
\fill[ring,cS] (gross) circle (22pt);
\fill[ring,cY] (gross) circle (14pt);
\fill[ring,cL] (gross) circle (8pt);
\fill[ring,cS] (davidson) circle (27pt);
\fill[ring,cO] (davidson) circle (18pt);
\fill[ring,cY] (davidson) circle (9pt);
\fill[ring,cG] (magai) circle (6pt);
\fill[ring,cY] (larson) circle (4pt);
\fill[ring,cO] (dedmon) circle (5pt);
\fill[ring,cL] (johnsonmc) circle (6pt);
\fill[ring,cS] (calkins) circle (21pt);
\fill[ring,cL] (calkins) circle (13pt);
\fill[ring,cG] (calkins) circle (7pt);
\fill[ring,cO] (agras) circle (7pt);
\fill[ring,cO] (gill) circle (6pt);
\fill[ring,cY] (carter) circle (6pt);
\fill[ring,cO] (safer) circle (4pt);
\fill[ring,cO] (telch) circle (15pt);
\fill[ring,cY] (telch) circle (10pt);
\fill[ring,cY] (thompson) circle (6pt);
\fill[ring,cC] (thompson) circle (3pt);
\fill[ring,cO] (davisha) circle (5pt);
\fill[ring,cO] (deroten) circle (5pt);
\fill[ring,cS] (espy) circle (5pt);
\fill[ring,cM] (karbonU) circle (4pt);
\fill[ring,cM] (fabesU) circle (5pt);
\fill[ring,cM] (eisenU) circle (5pt);
\fill[ring,cL] (maszk) circle (3pt);
\fill[ring,cY] (fabes) circle (9pt);
\fill[ring,cL] (eisen) circle (20pt);
\fill[ring,cY] (eisen) circle (12pt);
\fill[ring,cG] (eisen) circle (5pt);
\fill[ring,cG] (guthrie) circle (10pt);
\end{scope}
\end{tikzpicture}
\end{document}
